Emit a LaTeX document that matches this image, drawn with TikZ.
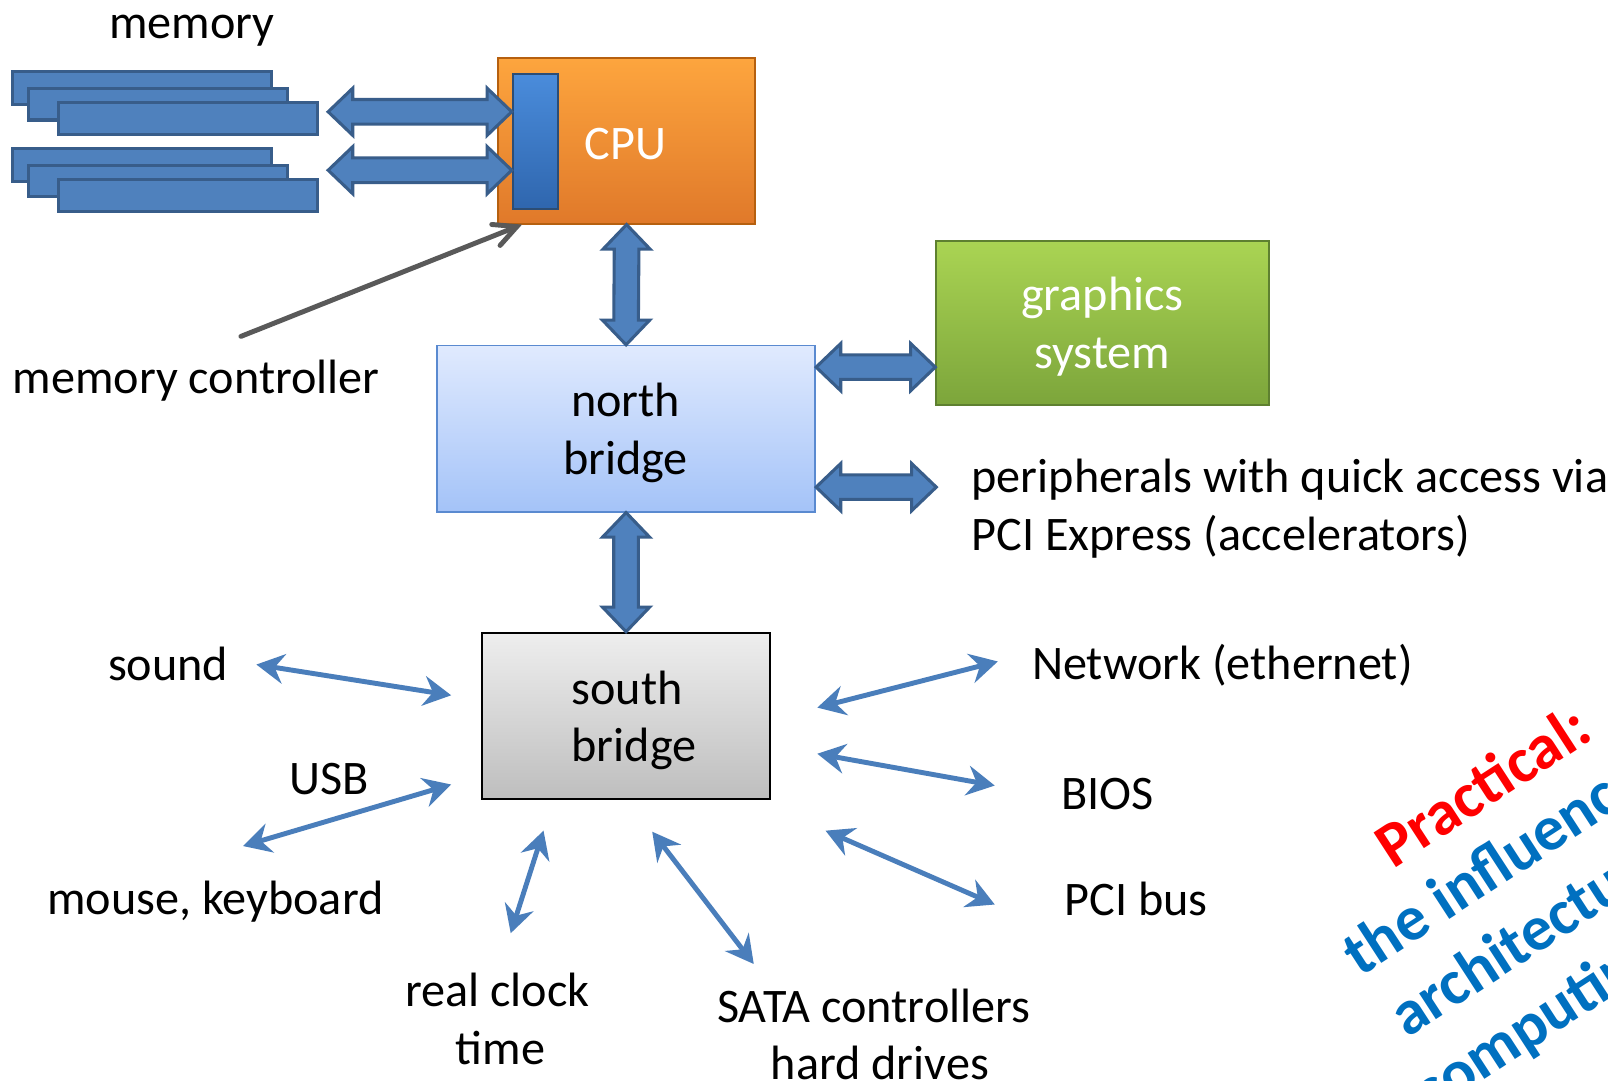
\documentclass[tikz,border=0pt]{standalone}
\usepackage{fontspec}
\setmainfont{Carlito}
\usetikzlibrary{arrows.meta,calc}
\definecolor{memblue}{HTML}{4F81BD}
\definecolor{memedge}{HTML}{385D8A}
\definecolor{arrblue}{HTML}{4A7EBB}
\definecolor{cputop}{HTML}{FDA53E}
\definecolor{cpubot}{HTML}{E0792A}
\definecolor{cpuedge}{HTML}{B6600F}
\definecolor{mctop}{HTML}{4A8CDB}
\definecolor{mcbot}{HTML}{2F66AE}
\definecolor{mcedge}{HTML}{2C4D75}
\definecolor{gfxtop}{HTML}{AAD453}
\definecolor{gfxbot}{HTML}{7CA53B}
\definecolor{gfxedge}{HTML}{5E8030}
\definecolor{nbtop}{HTML}{E0EAFE}
\definecolor{nbbot}{HTML}{A4C3F8}
\definecolor{nbedge}{HTML}{5A8AD0}
\definecolor{sbtop}{HTML}{EEEEEE}
\definecolor{sbbot}{HTML}{BEBEBE}
\definecolor{ctrlgray}{HTML}{595959}
\definecolor{practred}{HTML}{FF0000}
\definecolor{practblue}{HTML}{0070C0}
\newcommand{\hblock}[2]{\draw[blk] (#1) -- ($(#1)+(24,-23)$) -- ($(#1)+(24,-12)$) -- ($(#2)+(-24,-12)$) -- ($(#2)+(-24,-23)$) -- (#2) -- ($(#2)+(-24,23)$) -- ($(#2)+(-24,12)$) -- ($(#1)+(24,12)$) -- ($(#1)+(24,23)$) -- cycle;}
\newcommand{\vblock}[2]{\draw[blk] (#1) -- ($(#1)+(23,24)$) -- ($(#1)+(12,24)$) -- ($(#2)+(12,-24)$) -- ($(#2)+(23,-24)$) -- (#2) -- ($(#2)+(-23,-24)$) -- ($(#2)+(-12,-24)$) -- ($(#1)+(-12,24)$) -- ($(#1)+(-23,24)$) -- cycle;}
\tikzset{
  memmod/.style={fill=memblue, draw=memedge, line width=1.5pt},
  blk/.style={fill=memblue, draw=memedge, line width=1.5pt, line join=miter},
  linkarr/.style={draw=arrblue, line width=2.4pt,
    {Stealth[length=13.5pt,width=14.5pt,inset=4.5pt]}-{Stealth[length=13.5pt,width=14.5pt,inset=4.5pt]}},
  lbl/.style={inner sep=0pt, align=center, text=black},
  rot/.style={inner sep=0pt, anchor=base west, rotate=33, font=\fontsize{31}{36}\selectfont\bfseries},
}
\begin{document}
\begin{tikzpicture}[x=0.5pt,y=-0.5pt, font=\fontsize{23.5}{28}\selectfont]
\useasboundingbox (0,0) rectangle (1568,1054);
\clip (0,0) rectangle (1568,1054);
\fill[white] (0,0) rectangle (1568,1054);

% memory modules
\foreach \dy in {0,75}{
  \draw[memmod] (12,70+\dy) rectangle (265,102+\dy);
  \draw[memmod] (28,86+\dy) rectangle (280,117+\dy);
  \draw[memmod] (57,100+\dy) rectangle (310,131+\dy);
}
\node[lbl] (memlbl) at (187,30) {memory};

% CPU
\node[inner sep=0pt, minimum width=125pt, minimum height=80.5pt, top color=cputop, bottom color=cpubot, draw=cpuedge, line width=1pt] (cpu) at (611,137.5) {};
\node[inner sep=0pt, minimum width=22pt, minimum height=66pt, top color=mctop, bottom color=mcbot, draw=mcedge, line width=1pt] (mc) at (522,138) {};
\node[lbl, text=white] (cputxt) at (610,140) {CPU};

% memory arrows
\coordinate (m1) at (320,109);
\coordinate (m2) at (320,166);
\hblock{m1}{mc.west |- m1}
\hblock{m2}{mc.west |- m2}

% memory controller label
\node[lbl, anchor=west] (mclbl) at (12,371) {memory controller};
\coordinate (mcfoot) at (235,328);
\coordinate (mctip) at (509,219);
\draw[ctrlgray, line width=2.4pt, line cap=round, -{Straight Barb[length=11pt,width=11pt,line cap=round]}] (mcfoot) -- (mctip);

% north bridge
\node[inner sep=0pt, minimum width=184.5pt, minimum height=81pt, top color=nbtop, bottom color=nbbot, draw=nbedge, line width=0.8pt] (nb) at (610.5,418) {};
\node[lbl] (nbtxt) at (610,422) {north\\bridge};

% graphics
\node[inner sep=0pt, minimum width=162pt, minimum height=80pt, top color=gfxtop, bottom color=gfxbot, draw=gfxedge, line width=1pt] (gfx) at (1075,315) {};
\node[lbl, text=white] (gfxtxt) at (1075,318.5) {graphics\\system};

% peripherals
\node[lbl, anchor=west, align=left] (peri) at (947,496) {peripherals with quick access via\\PCI Express (accelerators)};
\coordinate (g1) at (nb.east |- 0,358);
\coordinate (p1) at (nb.east |- 0,475);
\coordinate (p2) at (913,475);

% south bridge
\node[inner sep=0pt, minimum width=140.5pt, minimum height=81pt, top color=sbtop, bottom color=sbbot, draw=black, line width=1pt] (sb) at (610.5,698) {};
\node[lbl, anchor=west, align=left] (sbtxt) at (557,702.5) {south\\bridge};

% block arrows
\vblock{cpu.south}{nb.north}
\vblock{nb.south}{sb.north}
\hblock{g1}{gfx.west |- g1}
\hblock{p1}{p2}

% labels
\node[lbl] (sound) at (164,647) {sound};
\node[lbl] (usb) at (321,760) {USB};
\node[lbl] (mouse) at (210,879) {mouse, keyboard};
\node[lbl] (clock) at (485,993.5) {real clock\\\hspace*{3pt}time};
\node[lbl] (sata) at (852,1008.5) {SATA controllers\\\hspace*{6pt}hard drives};
\node[lbl, anchor=west] (net) at (1006,649) {Network (ethernet)};
\node[lbl] (bios) at (1080,774) {BIOS};
\node[lbl] (pci) at (1108,877) {PCI bus};

% thin arrows
\coordinate (a1) at (250,648); \coordinate (b1) at (440,678);
\coordinate (a2) at (237,825); \coordinate (b2) at (440,765);
\coordinate (a3) at (530,810); \coordinate (b3) at (498,910);
\coordinate (a4) at (636,811); \coordinate (b4) at (735,940);
\coordinate (a5) at (797,690); \coordinate (b5) at (973,645);
\coordinate (a6) at (797,735); \coordinate (b6) at (970,766);
\coordinate (a7) at (805,810); \coordinate (b7) at (970,882);
\foreach \i in {1,...,7}{\draw[linkarr] (a\i) -- (b\i);}

% rotated note
\node[rot, text=practred] (pr1) at (1358,848) {Practical:};
\node[rot, text=practblue] (pr2) at (1326,953) {the influence of};
\node[rot, text=practblue] (pr3) at (1372,1013) {architecture on};
\node[rot, text=practblue] (pr4) at (1395,1087) {computing};
\end{tikzpicture}
\end{document}
